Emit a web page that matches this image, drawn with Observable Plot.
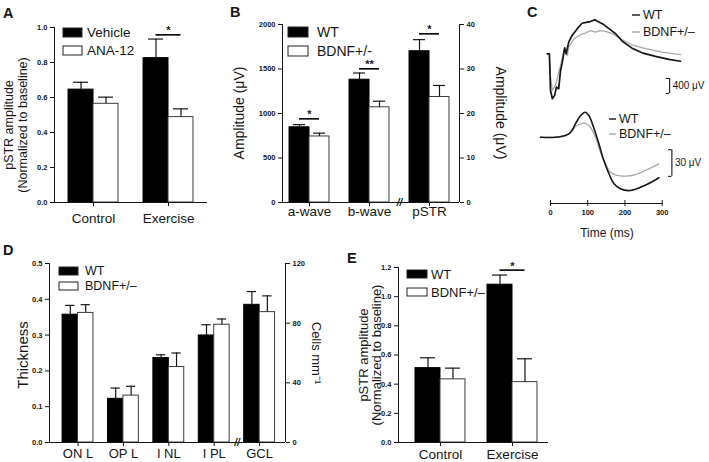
<!DOCTYPE html>
<html><head><meta charset="utf-8">
<script src="https://cdn.jsdelivr.net/npm/d3@7"></script>
<script src="https://cdn.jsdelivr.net/npm/@observablehq/plot@0.6"></script>
<style>
body{margin:0;background:#fff;}
#fig{position:relative;width:709px;height:462px;overflow:hidden;background:#fff;}
#fig svg{position:absolute;left:0;top:0;}
</style></head><body><div id="fig"></div>
<script>
// ---------------- DATA ----------------
// Panel A: pSTR amplitude (normalized to baseline)
const aCategories = ["Control", "Exercise"];
const aSeries = ["Vehicle", "ANA-12"];
const aVehicle = [0.645, 0.825];
const aVehicleSem = [0.042, 0.109];
const aAna = [0.564, 0.488];
const aAnaSem = [0.038, 0.047];
const aYTicks = [0, 0.2, 0.4, 0.6, 0.8, 1.0];
const aSig = [{cat: 1, y: 0.958, label: "*"}];

// Panel B: amplitudes (µV); pSTR is read on the right axis
const bCategories = ["a-wave", "b-wave", "pSTR"];
const bSeries = ["WT", "BDNF+/-"];
const bWT = [845, 1380, 34.0];
const bWTSem = [30, 75, 2.6];
const bHet = [742, 1070, 23.7];
const bHetSem = [37, 68, 2.6];
const bOnRight = [false, false, true];
const bLeftTicks = [0, 500, 1000, 1500, 2000];
const bRightTicks = [0, 10, 20, 30, 40];
const bSig = [{cat: 0, y: 940, label: "*"}, {cat: 1, y: 1502, label: "**"}, {cat: 2, y: 37.9, label: "*"}];

// Panel C: example traces (time in ms, amplitude in µV)
const cErgTimeWT = [-9, -3, 0, 5, 11, 16, 22, 27, 31, 38, 42, 49, 58, 72, 85, 99, 107, 119, 130, 143, 157, 175, 193, 219, 246, 282, 318, 349];
const cErgWT = [0, 0, -980, -1200, -1110, -890, -935, -445, -270, 160, 0, 310, 490, 670, 815, 845, 860, 910, 845, 780, 670, 535, 335, 150, 25, -70, -150, -200];
const cErgTimeHet = [-9, -3, 0, 5, 13, 18, 27, 36, 45, 49, 63, 81, 94, 107, 121, 134, 148, 166, 193, 219, 255, 300, 349];
const cErgHet = [0, 0, -625, -980, -845, -670, -310, 90, -45, 175, 400, 515, 550, 620, 575, 620, 600, 535, 375, 240, 135, 45, -20];
const cPstrTimeWT = [-27, 13, 40, 54, 67, 81, 94, 103, 116, 130, 143, 157, 170, 188, 210, 237, 264, 291];
const cPstrWT = [0, 0, 2, 5.6, 15, 24.4, 28, 24.4, 11, -7.4, -26, -41, -52, -58, -60, -57, -52, -45.5];
const cPstrTimeHet = [-27, 13, 40, 54, 67, 81, 94, 107, 121, 134, 148, 161, 179, 201, 228, 255, 291];
const cPstrHet = [0, 0, 2, 4.9, 12, 15.1, 15.7, 11.2, 0, -16.9, -30, -39.3, -43, -43.8, -42, -37.4, -30];
const cTimeTicks = [0, 100, 200, 300];
const cSeries = ["WT", "BDNF+/–"];
const cErgScale = {t: 320, lo: -1060, hi: -660, label: "400 μV"};
const cPstrScale = {t: 326, lo: -44, hi: -14, label: "30 μV"};

// Panel D: retinal layer thickness; GCL is cells/mm on right axis
const dCategories = ["ON L", "OP L", "I NL", "I PL", "GCL"];
const dSeries = ["WT", "BDNF+/–"];
const dWT = [0.357, 0.122, 0.236, 0.299, 92.3];
const dWTSem = [0.026, 0.030, 0.009, 0.030, 8.9];
const dHet = [0.362, 0.131, 0.211, 0.329, 87.4];
const dHetSem = [0.023, 0.026, 0.039, 0.016, 10.9];
const dOnRight = [false, false, false, false, true];
const dLeftTicks = [0, 0.1, 0.2, 0.3, 0.4, 0.5];
const dRightTicks = [0, 40, 80, 120];

// Panel E: pSTR amplitude (normalized to baseline)
const eCategories = ["Control", "Exercise"];
const eSeries = ["WT", "BDNF+/–"];
const eWT = [0.51, 1.082];
const eWTSem = [0.071, 0.066];
const eHet = [0.433, 0.414];
const eHetSem = [0.077, 0.16];
const eYTicks = [0, 0.2, 0.4, 0.6, 0.8, 1.0, 1.2];
const eSig = [{cat: 1, y: 1.182, label: "*"}];

// ---------------- HELPERS ----------------
const FONT = '"Liberation Sans", Arial, Helvetica, sans-serif';
const INK = "#161616";
const GRAY = "#a9a9a9";
const fig = document.getElementById("fig");

function makePlot(opts) {
  const svg = Plot.plot(Object.assign({
    width: 709, height: 462,
    style: {background: "transparent", fontFamily: FONT, overflow: "visible", color: INK}
  }, opts));
  fig.appendChild(svg);
  return svg;
}
function txt(svg, x, y, str, o = {}) {
  const t = d3.select(svg).append("text")
    .attr("x", x).attr("y", y)
    .attr("font-size", o.size || 12)
    .attr("font-weight", o.weight || "normal")
    .attr("text-anchor", o.anchor || "start")
    .attr("dominant-baseline", "central")
    .attr("fill", INK)
    .style("font-family", FONT)
    .text(str);
  if (o.rotate) t.attr("transform", `rotate(${o.rotate},${x},${y})`);
  return t;
}
function boxLegend(svg, x, ys, labels, w, h, gap, size) {
  const g = d3.select(svg).append("g");
  labels.forEach((lab, k) => {
    g.append("rect").attr("x", x).attr("y", ys[k] - h / 2).attr("width", w).attr("height", h)
      .attr("fill", k ? "#fff" : "#000").attr("stroke", "#222").attr("stroke-width", 1);
    txt(svg, x + w + gap, ys[k], lab, {size});
  });
}
function lineLegend(svg, x, ys, labels, len, size) {
  const g = d3.select(svg).append("g");
  labels.forEach((lab, k) => {
    g.append("line").attr("x1", x).attr("x2", x + len).attr("y1", ys[k]).attr("y2", ys[k])
      .attr("stroke", k ? GRAY : INK).attr("stroke-width", 1.4);
    txt(svg, x + len + 3, ys[k], lab, {size});
  });
}

function barPanel(cfg) {
  const [L, R, T, B] = cfg.frame;
  const f = cfg.rightFactor || 1;
  const conv = (v, i) => (cfg.onRight && cfg.onRight[i]) ? v * f : v;
  const rows0 = cfg.g0.map((v, i) => ({i, v: conv(v, i), e: conv(v + cfg.s0[i], i)}));
  const rows1 = cfg.g1.map((v, i) => ({i, v: conv(v, i), e: conv(v + cfg.s1[i], i)}));
  const bw = cfg.bw, cap = bw * 0.3;
  const err = (rows, off) => [
    Plot.ruleX(rows, {x: d => d.i + off, y1: "v", y2: "e", stroke: INK, strokeWidth: 1.2}),
    Plot.ruleY(rows, {y: "e", x1: d => d.i + off - cap, x2: d => d.i + off + cap, stroke: INK, strokeWidth: 1.2})
  ];
  const sig = (cfg.sig || []).map(s => ({...s, y: conv(s.y, s.cat)}));
  const marks = [
    Plot.rect(rows0, {x1: d => d.i - bw, x2: d => d.i, y1: 0, y2: "v", fill: "#000", stroke: "#000"}),
    Plot.rect(rows1, {x1: d => d.i, x2: d => d.i + bw, y1: 0, y2: "v", fill: "#fff", stroke: "#3a3a3a", strokeWidth: 1}),
    ...err(rows0, -bw / 2), ...err(rows1, bw / 2),
    Plot.ruleX([cfg.xDomain[0]], {stroke: INK, strokeWidth: 1}),
    Plot.ruleY([0], {stroke: INK, strokeWidth: 1}),
    Plot.axisY({ticks: cfg.yTicks, tickFormat: cfg.yFormat, tickSize: 4, tickPadding: 3,
      fontSize: 7.5, fontWeight: "bold", label: null}),
    Plot.axisX({ticks: cfg.categories.map((_, i) => i), tickFormat: i => cfg.categories[i],
      tickSize: 4, tickPadding: cfg.xPad, fontSize: cfg.xFont, label: null}),
    Plot.ruleY(sig, {y: "y", x1: d => d.cat - bw / 2, x2: d => d.cat + bw / 2, stroke: "#000", strokeWidth: 1.6}),
    Plot.text(sig, {x: "cat", y: "y", text: "label", dy: -4, fontSize: 11, fontWeight: "bold"})
  ];
  if (cfg.rightTicks) {
    marks.push(Plot.ruleX([cfg.xDomain[1]], {stroke: INK, strokeWidth: 1}));
    marks.push(Plot.axisY({anchor: "right", ticks: cfg.rightTicks.map(t => t * f),
      tickFormat: d => String(Math.round(d / f)), tickSize: 4, tickPadding: 3,
      fontSize: 7.5, fontWeight: "bold", label: null}));
  }
  if (cfg.breakAt != null) {
    marks.push(Plot.text([cfg.breakAt], {x: d => d, y: 0, text: () => "//", fontSize: 10, fontWeight: "bold", fontStyle: "italic"}));
  }
  return makePlot({
    marginLeft: L, marginRight: 709 - R, marginTop: T, marginBottom: 462 - B,
    x: {type: "linear", domain: cfg.xDomain},
    y: {domain: cfg.yDomain},
    marks
  });
}

// ---------------- PANEL A ----------------
const svgA = barPanel({
  frame: [54, 207, 27, 202], xDomain: [-0.52, 1.52], yDomain: [0, 1], bw: 0.333,
  categories: aCategories, g0: aVehicle, s0: aVehicleSem, g1: aAna, s1: aAnaSem,
  yTicks: aYTicks, yFormat: d3.format(".1f"), xPad: 7, xFont: 13.5, sig: aSig
});
boxLegend(svgA, 63, [32.5, 50.5], aSeries, 19, 9, 5, 13.5);
txt(svgA, 9, 125, "pSTR amplitude", {size: 12.5, anchor: "middle", rotate: -90});
txt(svgA, 22.5, 125, "(Normalized to baseline)", {size: 12.5, anchor: "middle", rotate: -90});
txt(svgA, 3, 13, "A", {size: 14.5, weight: "bold"});

// ---------------- PANEL B ----------------
const svgB = barPanel({
  frame: [282, 459, 24, 202], xDomain: [-0.45, 2.5], yDomain: [0, 2000], bw: 0.333,
  categories: bCategories, g0: bWT, s0: bWTSem, g1: bHet, s1: bHetSem,
  onRight: bOnRight, rightFactor: 50, rightTicks: bRightTicks,
  yTicks: bLeftTicks, yFormat: d3.format("d"), xPad: 0, xFont: 13.5, sig: bSig, breakAt: 1.5
});
boxLegend(svgB, 288, [32, 51], bSeries, 20, 10, 9, 14);
txt(svgB, 239, 113, "Amplitude (μV)", {size: 14, anchor: "middle", rotate: -90});
txt(svgB, 501, 113, "Amplitude (μV)", {size: 14, anchor: "middle", rotate: 90});
txt(svgB, 230, 12, "B", {size: 14.5, weight: "bold"});

// ---------------- PANEL C ----------------
const pts = (ts, vs) => ts.map((t, i) => ({t, v: vs[i]}));
const svgC1 = makePlot({
  marginLeft: 550, marginRight: 709 - 661.7, marginTop: 10, marginBottom: 360,
  x: {domain: [0, 300], axis: null},
  y: {domain: [-1300, 1000], range: [102, 15.8], axis: null},
  marks: [
    Plot.line(pts(cErgTimeHet, cErgHet), {x: "t", y: "v", stroke: GRAY, strokeWidth: 1.3}),
    Plot.line(pts(cErgTimeWT, cErgWT), {x: "t", y: "v", stroke: INK, strokeWidth: 1.7}),
    Plot.ruleX([cErgScale], {x: "t", y1: "lo", y2: "hi", stroke: INK, strokeWidth: 1.1}),
    Plot.ruleY([cErgScale.lo, cErgScale.hi], {y: d => d, x1: cErgScale.t - 9, x2: cErgScale.t, stroke: INK, strokeWidth: 1.1}),
    Plot.text([cErgScale], {x: "t", y: d => (d.lo + d.hi) / 2, text: "label", dx: 3, textAnchor: "start", fontSize: 10})
  ]
});
lineLegend(svgC1, 632, [15, 32], cSeries, 8, 12.5);
txt(svgC1, 527, 12, "C", {size: 14.5, weight: "bold"});

const svgC2 = makePlot({
  marginLeft: 550, marginRight: 709 - 661.7, marginTop: 105, marginBottom: 259,
  x: {domain: [0, 300]},
  y: {domain: [-70, 35], range: [199, 105.6], axis: null},
  marks: [
    Plot.line(pts(cPstrTimeHet, cPstrHet), {x: "t", y: "v", stroke: GRAY, strokeWidth: 1.3, curve: "catmull-rom"}),
    Plot.line(pts(cPstrTimeWT, cPstrWT), {x: "t", y: "v", stroke: INK, strokeWidth: 1.6, curve: "catmull-rom"}),
    Plot.ruleX([cPstrScale], {x: "t", y1: "lo", y2: "hi", stroke: INK, strokeWidth: 1.1}),
    Plot.ruleY([cPstrScale.lo, cPstrScale.hi], {y: d => d, x1: cPstrScale.t - 9, x2: cPstrScale.t, stroke: INK, strokeWidth: 1.1}),
    Plot.text([cPstrScale], {x: "t", y: d => (d.lo + d.hi) / 2, text: "label", dx: 3, textAnchor: "start", fontSize: 10}),
    Plot.frame({anchor: "bottom", stroke: INK}),
    Plot.ruleX(cTimeTicks, {x: d => d, insetTop: 95, insetBottom: -3, stroke: INK}),
    Plot.axisX({ticks: cTimeTicks, tickSize: 0, tickPadding: 6, fontSize: 7.5, fontWeight: "bold", label: null})
  ]
});
lineLegend(svgC2, 609, [119, 134], cSeries, 7, 12.5);
txt(svgC2, 607, 233, "Time (ms)", {size: 12, anchor: "middle"});

// ---------------- PANEL D ----------------
const svgD = barPanel({
  frame: [49, 285, 263, 442], xDomain: [-0.628, 4.57], yDomain: [0, 0.5], bw: 0.34,
  categories: dCategories, g0: dWT, s0: dWTSem, g1: dHet, s1: dHetSem,
  onRight: dOnRight, rightFactor: 1 / 240, rightTicks: dRightTicks,
  yTicks: dLeftTicks, yFormat: d3.format(".1f"), xPad: 2, xFont: 13, breakAt: 3.5
});
boxLegend(svgD, 59, [271, 286], dSeries, 19, 8, 7, 12.5);
txt(svgD, 22, 355, "Thickness", {size: 15, anchor: "middle", rotate: -90});
txt(svgD, 316, 353, "Cells mm⁻¹", {size: 13, anchor: "middle", rotate: 90});
txt(svgD, 3, 250, "D", {size: 14.5, weight: "bold"});

// ---------------- PANEL E ----------------
const svgE = barPanel({
  frame: [398, 548, 267, 442], xDomain: [-0.583, 1.5], yDomain: [0, 1.2], bw: 0.347,
  categories: eCategories, g0: eWT, s0: eWTSem, g1: eHet, s1: eHetSem,
  yTicks: eYTicks, yFormat: d3.format(".1f"), xPad: 3, xFont: 13.5, sig: eSig
});
boxLegend(svgE, 407, [274, 292], eSeries, 20, 8, 4, 13);
txt(svgE, 363, 355, "pSTR amplitude", {size: 13, anchor: "middle", rotate: -90});
txt(svgE, 376.5, 355, "(Normalized to baseline)", {size: 13, anchor: "middle", rotate: -90});
txt(svgE, 347, 258, "E", {size: 14.5, weight: "bold"});
</script></body></html>
